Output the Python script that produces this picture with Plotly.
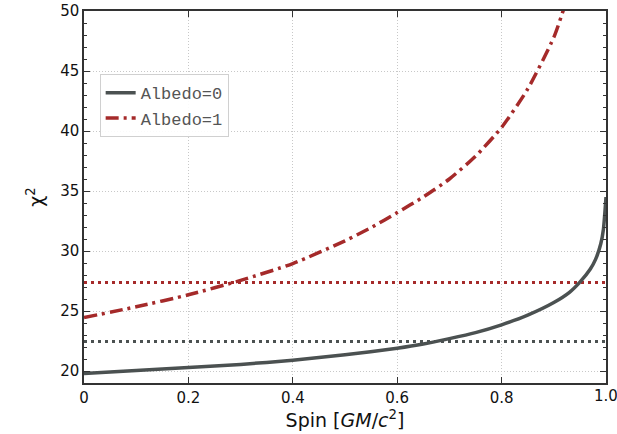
import plotly.graph_objects as go

spin0 = [0.0, 0.1, 0.2, 0.3, 0.4, 0.5, 0.6, 0.65, 0.7, 0.75, 0.8, 0.85, 0.9, 0.93, 0.95, 0.97, 0.98, 0.99, 0.995, 1.0]
chi0 = [19.8, 20.05, 20.3, 20.55, 20.9, 21.35, 21.9, 22.25, 22.7, 23.2, 23.85, 24.65, 25.7, 26.55, 27.4, 28.5, 29.3, 30.6, 31.8, 34.5]

spin1 = [0.0, 0.1, 0.2, 0.3, 0.4, 0.5, 0.55, 0.6, 0.65, 0.7, 0.75, 0.8, 0.85, 0.9, 0.92]
chi1 = [24.45, 25.35, 26.35, 27.55, 28.95, 30.85, 31.95, 33.2, 34.5, 36.0, 37.9, 40.3, 43.5, 47.8, 50.3]

best0 = 22.45
best1 = 27.37

xtick_vals = [0, 0.2, 0.4, 0.6, 0.8, 1.0]
xtick_text = ["0", "0.2", "0.4", "0.6", "0.8", "1.0"]

gray = "#4b5151"
red = "#a52a2a"

fig = go.Figure()
fig.add_trace(go.Scatter(x=[0, 1], y=[best0, best0], mode="lines",
                         line=dict(color=gray, width=3, dash="3px,4px"), showlegend=False))
fig.add_trace(go.Scatter(x=[0, 1], y=[best1, best1], mode="lines",
                         line=dict(color=red, width=3, dash="3px,4px"), showlegend=False))
fig.add_trace(go.Scatter(x=spin0, y=chi0, mode="lines", name="Albedo=0",
                         line=dict(color=gray, width=3.5, shape="spline", smoothing=0.6)))
fig.add_trace(go.Scatter(x=spin1, y=chi1, mode="lines", name="Albedo=1",
                         line=dict(color=red, width=3.5, dash="13px,5px,3px,5px", shape="spline", smoothing=0.6)))

tickfont = dict(family="DejaVu Sans", size=15, color="#111")
axis_common = dict(
    showline=True, linecolor="#333", linewidth=1.5, mirror="allticks",
    ticks="inside", ticklen=6, tickwidth=1.3, tickcolor="#333",
    showgrid=True, gridcolor="#c8c8c8", griddash="1px,2px", gridwidth=1,
    zeroline=False, automargin=False, tickfont=tickfont,
)

fig.update_xaxes(range=[0, 1], tickvals=xtick_vals,
                 ticktext=xtick_text[:-1] + [""],
                 title=dict(text="Spin [<i>GM</i>/<i>c</i><sup>2</sup>]",
                            font=dict(family="DejaVu Sans", size=19, color="#111"), standoff=6),
                 **axis_common)
fig.update_yaxes(range=[19, 50], tickvals=[20, 25, 30, 35, 40, 45, 50],
                 minor=dict(dtick=1, tick0=0, ticks="inside", ticklen=3, tickcolor="#333", showgrid=False),
                 title=dict(text="χ<sup>2</sup>", font=dict(family="DejaVu Sans", size=19, color="#111"), standoff=12),
                 **axis_common)

# last x tick label (clipped at the figure edge as in the reference)
fig.add_annotation(x=xtick_vals[-1], xref="x", y=0, yref="paper", yanchor="top", yshift=-2,
                   text=xtick_text[-1], showarrow=False, font=tickfont)

fig.update_layout(
    width=617, height=434,
    margin=dict(l=84, r=11, t=11, b=51),
    plot_bgcolor="white", paper_bgcolor="white",
    legend=dict(x=0.03, y=0.83, xanchor="left", yanchor="top",
                bgcolor="rgba(255,255,255,0.9)", bordercolor="#d0d0d0", borderwidth=1,
                font=dict(family="Liberation Mono, Courier New, monospace", size=17, color="#555")),
)

fig.write_html("out.html")
